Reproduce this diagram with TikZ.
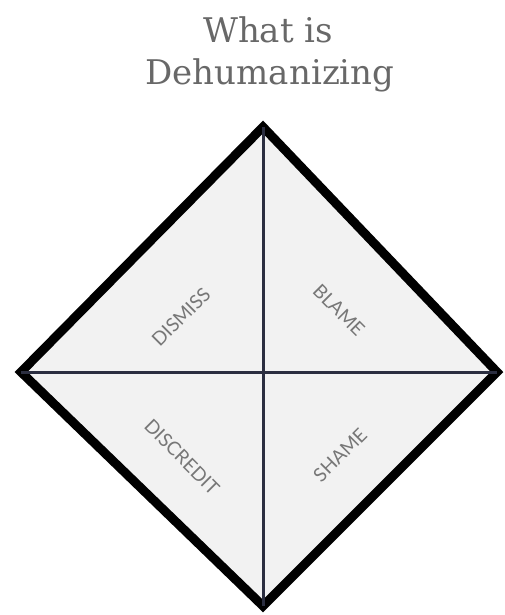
\documentclass[tikz,border=0pt]{standalone}
\usepackage{fontspec}
\setmainfont{DejaVu Serif}
\setsansfont{Lato}
\usepackage{xcolor}
\usetikzlibrary{positioning}

\definecolor{titlegray}{HTML}{686868}
\definecolor{labelgray}{HTML}{777777}
\definecolor{panelgray}{HTML}{F2F2F2}
\definecolor{crossnavy}{HTML}{2B2E40}

\begin{document}
\begin{tikzpicture}[x=1pt, y=-1pt, every node/.style={font=\sffamily}]
    % Styles
    \tikzstyle{heading} = [font=\rmfamily\fontsize{34}{42}\selectfont, text=titlegray, anchor=base, inner sep=0pt]
    \tikzstyle{word} = [font=\sffamily\fontsize{19}{21}\selectfont, text=labelgray, inner sep=0pt]
    \tikzstyle{rim} = [draw=black, line width=9pt, line join=miter, fill=panelgray]
    \tikzstyle{cross} = [draw=crossnavy, line width=3pt]

    \useasboundingbox (0,0) rectangle (504,615);

    % Title
    \node[heading] (line1) at (268,43) {What is};
    \node[heading] (line2) at (270,85) {Dehumanizing};

    % Corners
    \coordinate (top) at (263,127);
    \coordinate (right) at (497,372);
    \coordinate (bottom) at (263,606);
    \coordinate (left) at (21,372);

    % Diamond and cross
    \draw[rim] (top) -- (right) -- (bottom) -- (left) -- cycle;
    \draw[cross] (top) -- (bottom);
    \draw[cross] (left) -- (right);

    % Quadrant labels
    \node[word, rotate=45] (dismiss) at (181,317) {DISMISS};
    \node[word, rotate=-45] (blame) at (339,310) {BLAME};
    \node[word, rotate=-45] (discredit) at (182,457) {DISCREDIT};
    \node[word, rotate=45] (shame) at (340,455) {SHAME};
\end{tikzpicture}
\end{document}
